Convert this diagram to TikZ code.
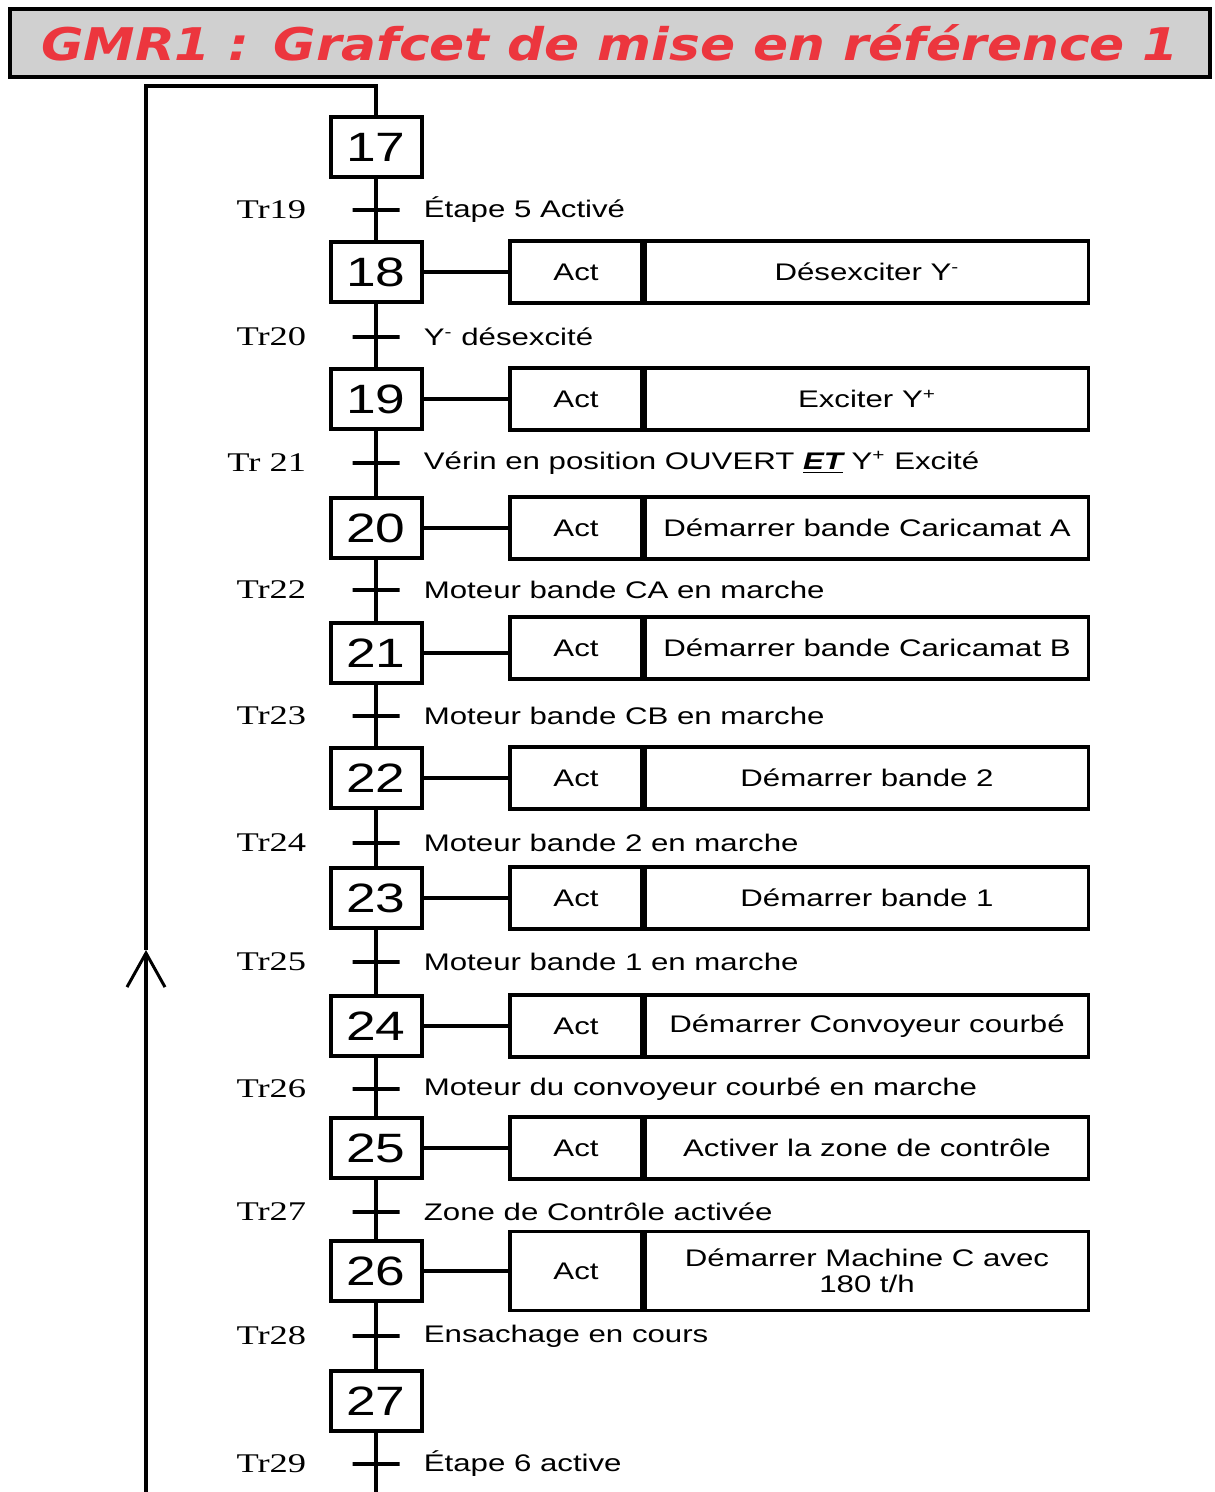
\documentclass[tikz,border=0pt]{standalone}
\usepackage{fontspec}
\setmainfont[FakeStretch=1.3]{Liberation Sans}
\newfontfamily\trfont[FakeStretch=1.35]{Liberation Serif}
\newfontfamily\titlefont[FakeStretch=1.15]{DejaVu Sans}
\usepackage{xcolor}
\usetikzlibrary{positioning, arrows.meta}

\definecolor{titrerouge}{RGB}{236,54,62}
\definecolor{titregris}{RGB}{208,208,208}

\begin{document}
\begin{tikzpicture}[x=0.5pt, y=-0.5pt,
    titre/.style={draw, line width=2pt, fill=titregris, minimum width=600pt, minimum height=34pt, text=titrerouge, font=\titlefont\bfseries\itshape\fontsize{22.5}{24}\selectfont},
    etape/.style={draw, line width=2pt, minimum width=45.5pt, minimum height=30pt, inner sep=0pt, font=\fontsize{20.5}{21}\selectfont},
    trans/.style={draw, line width=2pt, minimum width=23.5pt, minimum height=0pt, inner sep=0pt},
    act/.style={draw, line width=1.75pt, minimum width=66pt, minimum height=31pt, inner sep=0pt, font=\fontsize{12}{13}\selectfont},
    desc/.style={draw, line width=1.75pt, minimum width=221.5pt, minimum height=31pt, inner sep=0pt, align=center, font=\fontsize{12}{13}\selectfont},
    nomtr/.style={inner sep=0pt, font=\trfont\fontsize{13.5}{14}\selectfont},
    cond/.style={inner sep=0pt, font=\fontsize{12}{13}\selectfont},
    lien/.style={line width=2pt}]
    \useasboundingbox (0,0) rectangle (1214,1492);

    \node[titre] (titre) at (610,43) {GMR1 : Grafcet de mise en référence 1};

    % etapes
    \node[etape] (s17) at (376,147) {17};
    \node[etape] (s18) at (376,272) {18};
    \node[etape] (s19) at (376,399) {19};
    \node[etape] (s20) at (376,528) {20};
    \node[etape] (s21) at (376,653) {21};
    \node[etape] (s22) at (376,778) {22};
    \node[etape] (s23) at (376,898) {23};
    \node[etape] (s24) at (376,1026) {24};
    \node[etape] (s25) at (376,1148) {25};
    \node[etape] (s26) at (376,1271) {26};
    \node[etape] (s27) at (376,1401) {27};

    % transitions
    \node[trans] (t19) at (376,210) {};
    \node[trans] (t20) at (376,337) {};
    \node[trans] (t21) at (376,463) {};
    \node[trans] (t22) at (376,590) {};
    \node[trans] (t23) at (376,716) {};
    \node[trans] (t24) at (376,843) {};
    \node[trans] (t25) at (376,962) {};
    \node[trans] (t26) at (376,1089) {};
    \node[trans] (t27) at (376,1212) {};
    \node[trans] (t28) at (376,1336) {};
    \node[trans] (t29) at (376,1464) {};

    \node[nomtr, left=22pt of t19] (tr19) {Tr19};
    \node[nomtr, left=22pt of t20] (tr20) {Tr20};
    \node[nomtr, left=22pt of t21] (tr21) {Tr 21};
    \node[nomtr, left=22pt of t22] (tr22) {Tr22};
    \node[nomtr, left=22pt of t23] (tr23) {Tr23};
    \node[nomtr, left=22pt of t24] (tr24) {Tr24};
    \node[nomtr, left=22pt of t25] (tr25) {Tr25};
    \node[nomtr, left=22pt of t26] (tr26) {Tr26};
    \node[nomtr, left=22pt of t27] (tr27) {Tr27};
    \node[nomtr, left=22pt of t28] (tr28) {Tr28};
    \node[nomtr, left=22pt of t29] (tr29) {Tr29};

    \node[cond, right=11pt of t19] (c19) {Étape 5 Activé};
    \node[cond, right=11pt of t20] (c20) {Y\textsuperscript{-} désexcité};
    \node[cond, right=11pt of t21] (c21) {Vérin en position OUVERT \textbf{\textit{\underline{ET}}} Y\textsuperscript{+} Excité};
    \node[cond, right=11pt of t22] (c22) {Moteur bande CA en marche};
    \node[cond, right=11pt of t23] (c23) {Moteur bande CB en marche};
    \node[cond, right=11pt of t24] (c24) {Moteur bande 2 en marche};
    \node[cond, right=11pt of t25] (c25) {Moteur bande 1 en marche};
    \node[cond, right=11pt of t26] (c26) {Moteur du convoyeur courbé en marche};
    \node[cond, right=11pt of t27] (c27) {Zone de Contrôle activée};
    \node[cond, right=11pt of t28] (c28) {Ensachage en cours};
    \node[cond, right=11pt of t29] (c29) {Étape 6 active};

    % actions
    \node[act] (a18) at (576,272) {Act};
    \node[desc, right=0pt of a18] (d18) {Désexciter Y\textsuperscript{-}};
    \node[act] (a19) at (576,399) {Act};
    \node[desc, right=0pt of a19] (d19) {Exciter Y\textsuperscript{+}};
    \node[act] (a20) at (576,528) {Act};
    \node[desc, right=0pt of a20] (d20) {Démarrer bande Caricamat A};
    \node[act] (a21) at (576,648) {Act};
    \node[desc, right=0pt of a21] (d21) {Démarrer bande Caricamat B};
    \node[act] (a22) at (576,778) {Act};
    \node[desc, right=0pt of a22] (d22) {Démarrer bande 2};
    \node[act] (a23) at (576,898) {Act};
    \node[desc, right=0pt of a23] (d23) {Démarrer bande 1};
    \node[act] (a24) at (576,1026) {Act};
    \node[desc, right=0pt of a24] (d24) {Démarrer Convoyeur courbé};
    \node[act] (a25) at (576,1148) {Act};
    \node[desc, right=0pt of a25] (d25) {Activer la zone de contrôle};
    \node[act, minimum height=39.5pt] (a26) at (576,1271) {Act};
    \node[desc, minimum height=39.5pt, right=0pt of a26] (d26) {Démarrer Machine C avec\\180 t/h};

    \draw[lien] (s18) -- (a18);
    \draw[lien] (s19) -- (a19);
    \draw[lien] (s20) -- (a20);
    \draw[lien] (s21) -- (s21 -| a21.west);
    \draw[lien] (s22) -- (a22);
    \draw[lien] (s23) -- (a23);
    \draw[lien] (s24) -- (a24);
    \draw[lien] (s25) -- (a25);
    \draw[lien] (s26) -- (a26);

    % liaisons verticales
    \draw[lien] (s17) -- (t19) -- (s18);
    \draw[lien] (s18) -- (t20) -- (s19);
    \draw[lien] (s19) -- (t21) -- (s20);
    \draw[lien] (s20) -- (t22) -- (s21);
    \draw[lien] (s21) -- (t23) -- (s22);
    \draw[lien] (s22) -- (t24) -- (s23);
    \draw[lien] (s23) -- (t25) -- (s24);
    \draw[lien] (s24) -- (t26) -- (s25);
    \draw[lien] (s25) -- (t27) -- (s26);
    \draw[lien] (s26) -- (t28) -- (s27);

    % retour
    \coordinate (basD) at (376,1492);
    \coordinate (basG) at (146,1492);
    \coordinate (fleche) at (146,950);
    \coordinate (hautG) at (146,86);
    \coordinate (hautD) at (376,86);
    \draw[lien] (s27) -- (t29) -- (basD);
    \draw[lien, -{Straight Barb[length=17pt, width=19pt, line width=1.5pt]}] (basG) -- (fleche);
    \draw[lien] (fleche) -- (hautG) -- (hautD) -- (s17);
\end{tikzpicture}
\end{document}
